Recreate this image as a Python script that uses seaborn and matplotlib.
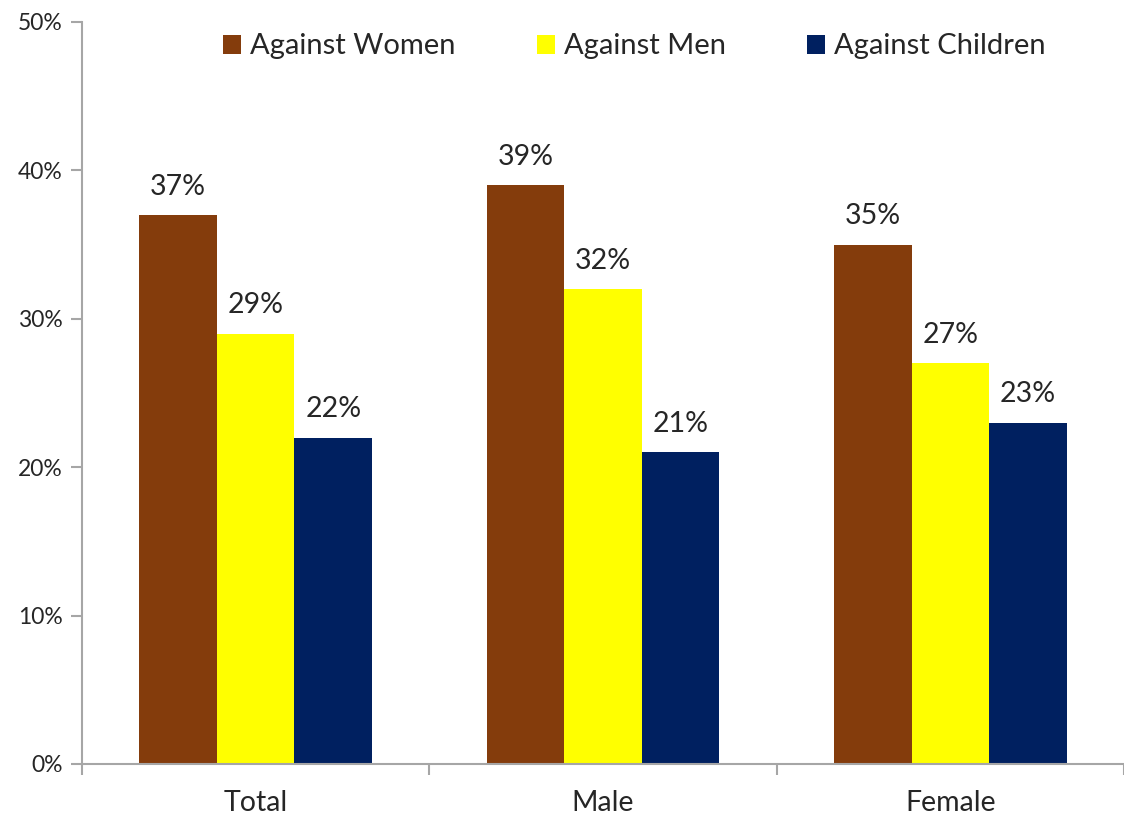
import numpy as np
import pandas as pd
import seaborn as sns
import matplotlib.pyplot as plt
from matplotlib.ticker import PercentFormatter

groups = ['Total', 'Male', 'Female']
series = ['Against Women', 'Against Men', 'Against Children']
women = [37, 39, 35]
men = [29, 32, 27]
children = [22, 21, 23]
colors = ['#843C0C', '#FFFF00', '#002060']

df = pd.DataFrame({
    'group': groups * 3,
    'series': [series[0]] * 3 + [series[1]] * 3 + [series[2]] * 3,
    'value': women + men + children,
})

sns.set_style('white')
plt.rcParams['font.family'] = ['Lato', 'DejaVu Sans']

fig = plt.figure(figsize=(11.24, 8.16), dpi=100)
ax = fig.add_axes([82 / 1124, 1 - 764 / 816, 1 - 82 / 1124, (764 - 22) / 816])

sns.barplot(data=df, x='group', y='value', hue='series', palette=colors,
            width=0.67, gap=0, saturation=1, ax=ax, edgecolor='none')

for c in ax.containers:
    ax.bar_label(c, labels=[f'{v:.0f}%' for v in c.datavalues],
                 padding=11, fontsize=20.5)

ax.set_ylim(0, 50)
ax.set_yticks(np.arange(0, 51, 10))
ax.yaxis.set_major_formatter(PercentFormatter(decimals=0))
ax.set_xlim(-0.5, -0.5 + 1042 / 350)
ax.set_xlabel('')
ax.set_ylabel('')

# category boundary ticks on the x axis
ax.set_xticks([-0.5, 0.5, 1.5, 2.5], minor=False)
ax.set_xticklabels([])
ax.set_xticks([0, 1, 2], minor=True)
ax.set_xticklabels(groups, minor=True, fontsize=20.5)
ax.tick_params(axis='x', which='minor', bottom=True, length=0, pad=19)
ax.tick_params(axis='x', which='major', bottom=True, direction='out',
               length=8, color='#A6A6A6', width=1.5)
ax.tick_params(axis='y', left=True, direction='out', length=8,
               color='#A6A6A6', width=1.5, labelsize=16.5, pad=6)

for s in ['top', 'right']:
    ax.spines[s].set_visible(False)
for s in ['left', 'bottom']:
    ax.spines[s].set_color('#A6A6A6')
    ax.spines[s].set_linewidth(1.5)

handles, labels = ax.get_legend_handles_labels()
ax.legend(handles, labels, loc='center', bbox_to_anchor=(0.530, 0.967),
          ncol=3, frameon=False, fontsize=21, handlelength=0.62,
          handleheight=0.62, handletextpad=0.3, columnspacing=2.8,
          borderpad=0)

fig.savefig('out.png', dpi=100)
